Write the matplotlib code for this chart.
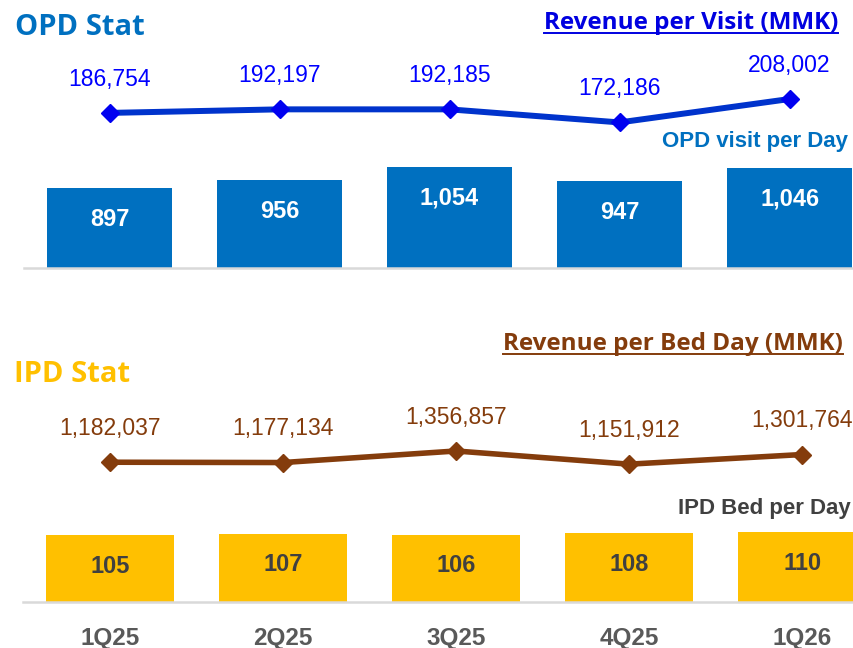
import matplotlib
matplotlib.use("Agg")
import matplotlib.pyplot as plt
from matplotlib.lines import Line2D
import numpy as np

W, H = 854, 648

quarters = ["1Q25", "2Q25", "3Q25", "4Q25", "1Q26"]
opd_visits = [897, 956, 1054, 947, 1046]
opd_rev_per_visit = [186754, 192197, 192185, 172186, 208002]
ipd_beds = [105, 107, 106, 108, 110]
ipd_rev_per_bed = [1182037, 1177134, 1356857, 1151912, 1301764]

BLUE = "#0070C0"
LINE_BLUE = "#0033CC"
MARK_BLUE = "#0000F0"
GOLD = "#FFC000"
BROWN = "#843C0C"
DARK = "#404040"
GREY = "#595959"
BASE = "#D9D9D9"

plt.rcParams["font.family"] = ["Liberation Sans", "DejaVu Sans"]


def px_rect(left, top, right, bottom):
    # pixel box measured from top-left -> figure fraction rect
    return [left / W, 1 - bottom / H, (right - left) / W, (bottom - top) / H]


def clean(ax, keep_bottom=False):
    for s in ["top", "right", "left", "bottom"]:
        ax.spines[s].set_visible(False)
    if keep_bottom:
        ax.spines["bottom"].set_visible(True)
        ax.spines["bottom"].set_color(BASE)
        ax.spines["bottom"].set_linewidth(1.8)
    ax.set_yticks([])
    ax.patch.set_alpha(0)


fig = plt.figure(figsize=(W / 100, H / 100), dpi=100)
x = np.arange(len(quarters))

# ---- OPD bars
ax_ob = fig.add_axes(px_rect(24, 130, 854, 268))
ax_ob.bar(x, opd_visits, width=0.74, color=BLUE)
ax_ob.set_xlim(-0.503, 4.379)
ax_ob.set_ylim(320, 1320)
clean(ax_ob, keep_bottom=True)
ax_ob.set_xticks([])
for xi, v in zip(x, opd_visits):
    ax_ob.annotate(f"{v:,}", (xi, v), xytext=(0, -27), textcoords="offset points",
                   ha="center", va="baseline", color="white", fontsize=17, fontweight="bold")

# ---- OPD revenue line
ax_ol = fig.add_axes(px_rect(24, 50, 854, 150))
ax_ol.plot(x, opd_rev_per_visit, color=LINE_BLUE, lw=4.3, marker="D", ms=9,
           mfc=MARK_BLUE, mec=MARK_BLUE, solid_joinstyle="miter")
ax_ol.set_xlim(-0.503, 4.379)
ax_ol.set_ylim(130000, 283000)
clean(ax_ol)
ax_ol.set_xticks([])
for xi, v in zip(x, opd_rev_per_visit):
    ax_ol.annotate(f"{v:,}", (xi, v), xytext=(0, 19.5), textcoords="offset points",
                   ha="center", va="baseline", color="#0000FF", fontsize=16.5,
                   annotation_clip=False)

# ---- IPD bars
ax_ib = fig.add_axes(px_rect(23, 475, 854, 601.7))
ax_ib.bar(x, ipd_beds, width=0.74, color=GOLD)
ax_ib.set_xlim(-0.503, 4.30)
ax_ib.set_ylim(0, 200)
clean(ax_ib, keep_bottom=True)
ax_ib.set_xticks(x, quarters)
ax_ib.tick_params(axis="x", length=0, pad=18, labelsize=17.5, labelcolor=GREY)
for lab in ax_ib.get_xticklabels():
    lab.set_fontweight("bold")
for xi, v in zip(x, ipd_beds):
    ax_ib.annotate(f"{v:,}", (xi, v), xytext=(0, -27), textcoords="offset points",
                   ha="center", va="baseline", color=DARK, fontsize=17, fontweight="bold")

# ---- IPD revenue line
ax_il = fig.add_axes(px_rect(23, 400, 854, 490))
ax_il.plot(x, ipd_rev_per_bed, color=BROWN, lw=4, marker="D", ms=9,
           mfc=BROWN, mec=BROWN)
ax_il.set_xlim(-0.503, 4.30)
ax_il.set_ylim(750000, 2150000)
clean(ax_il)
ax_il.set_xticks([])
for xi, v in zip(x, ipd_rev_per_bed):
    ax_il.annotate(f"{v:,}", (xi, v), xytext=(0, 19.5), textcoords="offset points",
                   ha="center", va="baseline", color=BROWN, fontsize=16.5,
                   annotation_clip=False)

# ---- titles and captions
title_font = ["Open Sans", "DejaVu Sans"]
fig.text(15 / W, 1 - 35 / H, "OPD Stat", color=BLUE, fontsize=21, fontweight="bold",
         family=title_font, va="baseline", ha="left")
fig.text(14 / W, 1 - 381.7 / H, "IPD Stat", color=GOLD, fontsize=21, fontweight="bold",
         family=title_font, va="baseline", ha="left")
t1 = fig.text(838 / W, 1 - 29.3 / H, "Revenue per Visit (MMK)", color="#0000E0",
              fontsize=17.5, fontweight="bold", family=title_font, va="baseline", ha="right")
t2 = fig.text(843 / W, 1 - 350 / H, "Revenue per Bed Day (MMK)", color=BROWN,
              fontsize=17.5, fontweight="bold", family=title_font, va="baseline", ha="right")
fig.text(848 / W, 1 - 146.7 / H, "OPD visit per Day", color=BLUE, fontsize=16,
         fontweight="bold", va="baseline", ha="right")
fig.text(851 / W, 1 - 514 / H, "IPD Bed per Day", color=DARK, fontsize=16,
         fontweight="bold", va="baseline", ha="right")

# underline the two revenue headings
fig.canvas.draw()
renderer = fig.canvas.get_renderer()
for t, base_y in [(t1, 32.5), (t2, 353.5)]:
    bb = t.get_window_extent(renderer)
    fig.add_artist(Line2D([bb.x0 / W, bb.x1 / W], [1 - base_y / H, 1 - base_y / H],
                          color=t.get_color(), lw=1.4, transform=fig.transFigure))

fig.savefig("out.png", dpi=100)
